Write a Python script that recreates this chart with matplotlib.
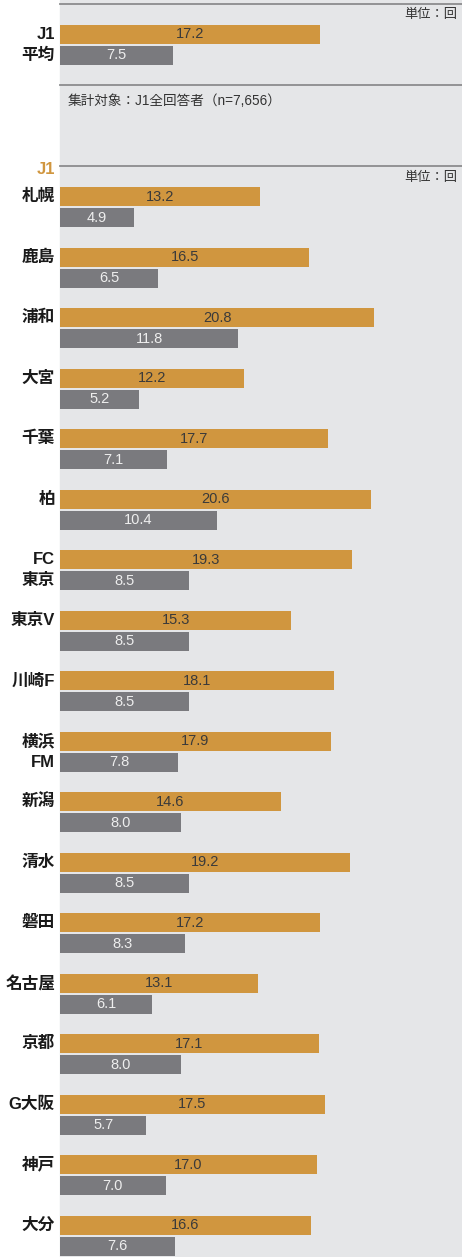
import matplotlib
matplotlib.use("Agg")
import matplotlib.pyplot as plt
from matplotlib.patches import Rectangle

plt.rcParams['font.family'] = ['Liberation Sans', 'Noto Sans CJK JP', 'DejaVu Sans']

# ---- data ----
avg_label = ["J1", "平均"]
avg_values = [17.2, 7.5]

teams = ["札幌", "鹿島", "浦和", "大宮", "千葉", "柏", "FC\n東京", "東京V", "川崎F",
         "横浜\nFM", "新潟", "清水", "磐田", "名古屋", "京都", "G大阪", "神戸", "大分"]
series_a = [13.2, 16.5, 20.8, 12.2, 17.7, 20.6, 19.3, 15.3, 18.1,
            17.9, 14.6, 19.2, 17.2, 13.1, 17.1, 17.5, 17.0, 16.6]
series_b = [4.9, 6.5, 11.8, 5.2, 7.1, 10.4, 8.5, 8.5, 8.5,
            7.8, 8.0, 8.5, 8.3, 6.1, 8.0, 5.7, 7.0, 7.6]
unit_text = "単位：回"
note_text = "集計対象：J1全回答者（n=7,656）"
section_label = "J1"

# ---- style ----
ORANGE = "#D0963F"
GRAY = "#7A7A7E"
BG = "#E5E6E8"
LINE = "#8C8C8E"
W, H = 462, 1257
LEFT = 60
S = 15.12  # px per unit

fig = plt.figure(figsize=(W / 100, H / 100), dpi=100)
ax = fig.add_axes([0, 0, 1, 1])
ax.set_xlim(-LEFT / S, (W - LEFT) / S)
ax.set_ylim(H, 0)
ax.axis("off")

def px(x):
    return (x - LEFT) / S

ax.add_patch(Rectangle((0, 0), (W - LEFT) / S, H, color=BG, zorder=0))

for yy in (4, 85, 166):
    ax.plot([0, (W - LEFT) / S], [yy, yy], color=LINE, lw=1.3, zorder=1)

BH = 19
val_fs = 10.5
lab_fs = 12

def draw_pair(yc_a, yc_b, va, vb):
    ax.barh(yc_a, va, height=BH, left=0, color=ORANGE, zorder=2)
    ax.barh(yc_b, vb, height=BH, left=0, color=GRAY, zorder=2)
    ax.text(va / 2, yc_a, f"{va:.1f}", ha="center", va="center",
            fontsize=val_fs, color="#3A3A3A", zorder=3)
    ax.text(vb / 2, yc_b, f"{vb:.1f}", ha="center", va="center",
            fontsize=val_fs, color="#EEEEEE", zorder=3)

def label(y, s, color="#1A1A1A"):
    ax.text(px(55), y, s, ha="right", va="center", fontsize=lab_fs,
            fontweight="bold", color=color)

# top average panel
draw_pair(34.5, 55.2, avg_values[0], avg_values[1])
label(34.5, avg_label[0])
label(55.2, avg_label[1])
ax.text(px(457), 15, unit_text, ha="right", va="center", fontsize=9.5, color="#333333")
ax.text(px(68), 101, note_text, ha="left", va="center", fontsize=9.8, color="#333333")

# section
label(170, section_label, ORANGE)
ax.text(px(457), 178, unit_text, ha="right", va="center", fontsize=9.5, color="#333333")

y0 = 196.7
step = 60.5
for i, (t, a, b) in enumerate(zip(teams, series_a, series_b)):
    ya = y0 + i * step
    yb = ya + 21
    draw_pair(ya, yb, a, b)
    parts = t.split("\n")
    label(ya, parts[0])
    if len(parts) > 1:
        label(yb, parts[1])

fig.savefig("out.png", dpi=100, facecolor="white")
